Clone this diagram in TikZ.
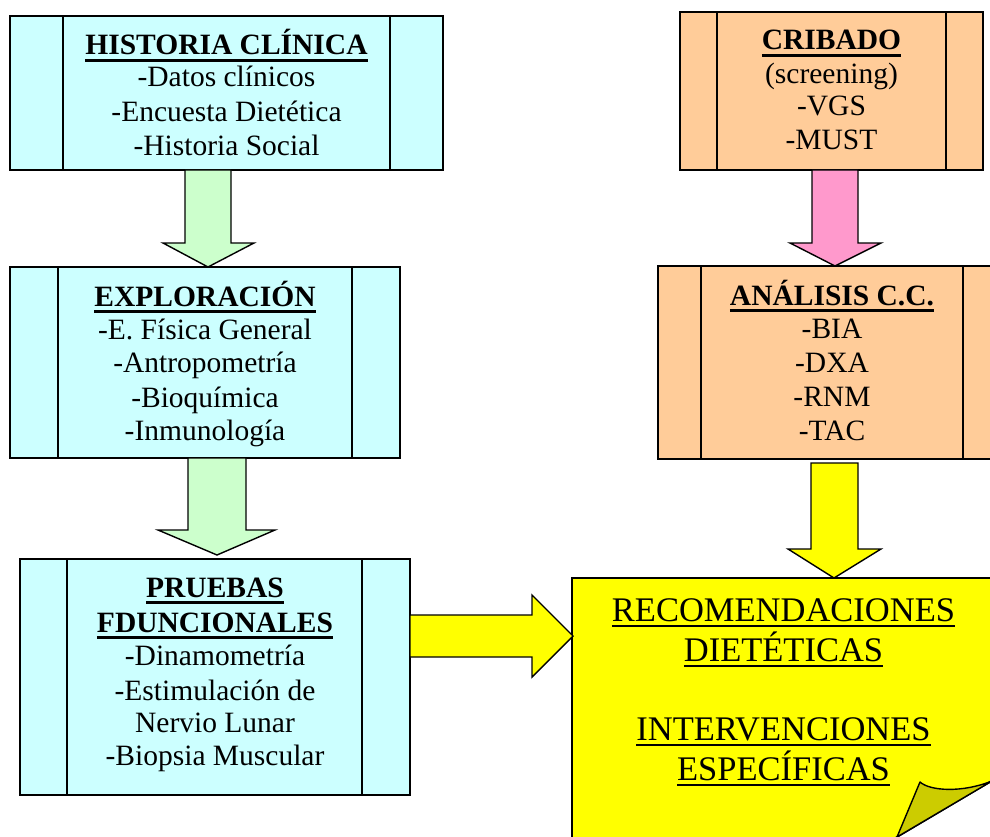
\documentclass[tikz,border=0pt]{standalone}
\usepackage{fontspec}
\setmainfont{Liberation Serif}
\usetikzlibrary{calc}
\definecolor{cyanbox}{HTML}{CCFFFF}
\definecolor{orangebox}{HTML}{FFCC99}
\definecolor{greenarr}{HTML}{CCFFCC}
\definecolor{pinkarr}{HTML}{FF99CC}
\definecolor{yel}{HTML}{FFFF00}
\definecolor{foldcol}{HTML}{CCCC00}
\newcommand\myul[2][6.6]{\setbox0=\hbox{#2}\rlap{\rule[-#1pt]{\wd0}{2.3pt}}\box0}
\begin{document}
\begin{tikzpicture}[x=1pt,y=-1pt,
  box/.style={draw=black, line width=1.8pt, inner sep=0pt, outer sep=0pt},
  divider/.style={draw=black, line width=1.5pt},
  txt/.style={anchor=base, inner sep=0pt, outer sep=0pt, font=\fontsize{29.5}{34}\selectfont},
  bigtxt/.style={anchor=base, inner sep=0pt, outer sep=0pt, font=\fontsize{34.5}{40}\selectfont},
  blockarrow/.style={draw=black, line width=1.4pt, line join=miter}]
\useasboundingbox (0,0) rectangle (990,837);
\clip (0,0) rectangle (990,837);
\fill[white] (0,0) rectangle (990,837);

% boxes
\node[box, fill=cyanbox, minimum width=433, minimum height=154] (h) at (226.5,93) {};
\node[box, fill=cyanbox, minimum width=390, minimum height=191] (e) at (205,362.5) {};
\node[box, fill=cyanbox, minimum width=390, minimum height=236] (p) at (215,677) {};
\node[box, fill=orangebox, minimum width=303, minimum height=158] (c) at (831.5,91) {};
\node[box, fill=orangebox, minimum width=348, minimum height=193] (a) at (832,362.5) {};

% dividers
\draw[divider] ($(h.north west)+(53,0)$) -- ($(h.south west)+(53,0)$);
\draw[divider] ($(h.north east)+(-53,0)$) -- ($(h.south east)+(-53,0)$);
\draw[divider] ($(e.north west)+(48,0)$) -- ($(e.south west)+(48,0)$);
\draw[divider] ($(e.north east)+(-48,0)$) -- ($(e.south east)+(-48,0)$);
\draw[divider] ($(p.north west)+(47,0)$) -- ($(p.south west)+(47,0)$);
\draw[divider] ($(p.north east)+(-48,0)$) -- ($(p.south east)+(-48,0)$);
\draw[divider] ($(c.north west)+(37,0)$) -- ($(c.south west)+(37,0)$);
\draw[divider] ($(c.north east)+(-37,0)$) -- ($(c.south east)+(-37,0)$);
\draw[divider] ($(a.north west)+(43,0)$) -- ($(a.south west)+(43,0)$);
\draw[divider] ($(a.north east)+(-43,0)$) -- ($(a.south east)+(-43,0)$);

% yellow result box
\draw[box, fill=yel] (572,578) -- (1010,578) -- (1010,770) -- (870,853) -- (572,853) -- cycle;
\coordinate (ytop) at (834,578);
\coordinate (yin) at (573,636);
\draw[line width=1.4pt, line join=round, fill=foldcol] (920,782) .. controls (930,791) and (962,793) .. (992,781) -- (897,837) -- cycle;

% block arrows
\draw[blockarrow, fill=greenarr] let \p1=(h.south), \p2=(e.north) in
  (185,\y1) -- (185,243) -- (163,243) -- (208,\y2) -- (254,243) -- (231,243) -- (231,\y1) -- cycle;
\draw[blockarrow, fill=greenarr] let \p1=(e.south), \p2=($(p.north)+(0,-4)$) in
  (188,\y1) -- (188,530) -- (158,530) -- (217,\y2) -- (275,530) -- (246,530) -- (246,\y1) -- cycle;
\draw[blockarrow, fill=pinkarr] let \p1=(c.south), \p2=(a.north) in
  (812,\y1) -- (812,243) -- (790,243) -- (835,\y2) -- (881,243) -- (858,243) -- (858,\y1) -- cycle;
\draw[blockarrow, fill=yel] let \p1=($(a.south)+(0,4)$), \p2=(ytop) in
  (811,\y1) -- (811,549) -- (788,549) -- (\x2,\y2) -- (881,549) -- (858,549) -- (858,\y1) -- cycle;
\draw[blockarrow, fill=yel] let \p1=(p.east), \p2=(yin) in
  (\x1,615) -- (532,615) -- (532,595) -- (\x2,\y2) -- (532,677) -- (532,657) -- (\x1,657) -- cycle;

% texts
\node[txt] (h1) at (226.5,55) {\myul{\textbf{HISTORIA CLÍNICA}}};
\node[txt] (h2) at (226.5,87) {-Datos clínicos};
\node[txt] (h3) at (226.5,122) {-Encuesta Dietética};
\node[txt] (h4) at (226.5,156) {-Historia Social};

\node[txt] (e1) at (205,306) {\myul{\textbf{EXPLORACIÓN}}};
\node[txt] (e2) at (205,339) {-E. Física General};
\node[txt] (e3) at (205,372) {-Antropometría};
\node[txt] (e4) at (205,407) {-Bioquímica};
\node[txt] (e5) at (205,440) {-Inmunología};

\node[txt] (p1) at (215,597) {\myul{\textbf{PRUEBAS}}};
\node[txt] (p2) at (215,632) {\myul{\textbf{FDUNCIONALES}}};
\node[txt] (p3) at (215,665) {-Dinamometría};
\node[txt] (p4) at (215,700) {-Estimulación de};
\node[txt] (p5) at (215,732) {Nervio Lunar};
\node[txt] (p6) at (215,765) {-Biopsia Muscular};

\node[txt] (c1) at (831.5,50) {\myul{\textbf{CRIBADO}}};
\node[txt] (c2) at (831.5,84) {(screening)};
\node[txt] (c3) at (831.5,116) {-VGS};
\node[txt] (c4) at (831.5,150) {-MUST};

\node[txt] (a1) at (832,305) {\myul{\textbf{ANÁLISIS C.C.}}};
\node[txt] (a2) at (832,338) {-BIA};
\node[txt] (a3) at (832,372) {-DXA};
\node[txt] (a4) at (832,406) {-RNM};
\node[txt] (a5) at (832,440) {-TAC};

\node[bigtxt] (y1) at (783.5,621) {\myul[5.8]{RECOMENDACIONES}};
\node[bigtxt] (y2) at (783.5,661) {\myul[5.8]{DIETÉTICAS}};
\node[bigtxt] (y3) at (783.5,740) {\myul[5.8]{INTERVENCIONES}};
\node[bigtxt] (y4) at (783.5,780) {\myul[5.8]{ESPECÍFICAS}};
\end{tikzpicture}
\end{document}
